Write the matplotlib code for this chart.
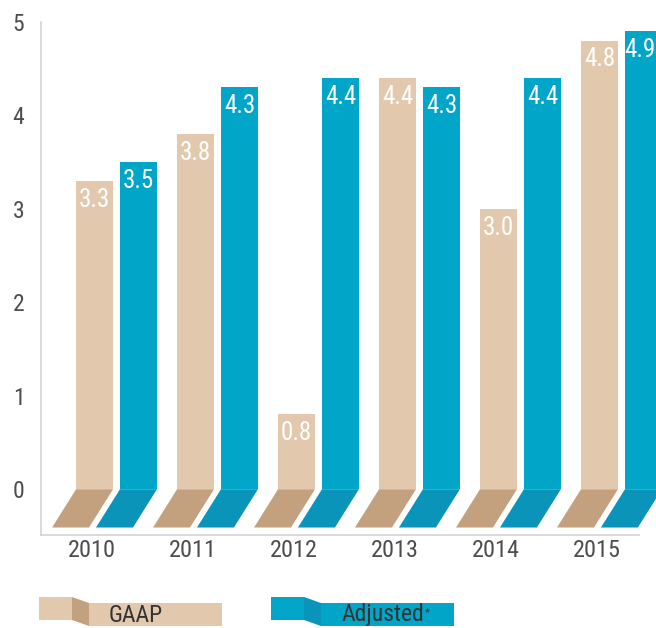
import matplotlib
matplotlib.use("Agg")
import matplotlib.pyplot as plt
import numpy as np
from matplotlib import font_manager
from matplotlib.patches import Polygon, Rectangle

years = ["2010", "2011", "2012", "2013", "2014", "2015"]
gaap = [3.3, 3.8, 0.8, 4.4, 3.0, 4.8]
adjusted = [3.5, 4.3, 4.4, 4.3, 4.4, 4.9]

# prefer a narrow face, like the condensed type of the original
names = {f.name for f in font_manager.fontManager.ttflist}
cands = ["Roboto Condensed", "Liberation Sans Narrow", "DejaVu Sans Condensed",
         "Open Sans Condensed", "Roboto", "DejaVu Sans"]
narrow = [c for c in cands if c in names]
plt.rcParams['font.family'] = narrow[:1] + ['DejaVu Sans']

GAAP_C = "#E2C9AE"
GAAP_D = "#C4A17E"
ADJ_C = "#00A5C8"
ADJ_D = "#0A94B9"
TXT = "#4D4D4D"

fig = plt.figure(figsize=(6.56, 6.28), dpi=100)
ax = fig.add_axes([41 / 656, 93 / 628, 615 / 656, 513 / 628])

x = np.arange(len(years))
w = 0.366      # bar width (group spacing = 1)
gap = 0.069
off = 0.238    # slant of the base
depth = 0.41   # how far the base goes below zero
xmax = 5.342

def draw_series(lefts, values, face, dark):
    ax.bar(lefts, values, width=w, align="edge", color=face, zorder=2)
    for l, v in zip(lefts, values):
        ax.add_patch(Polygon([(l, 0), (l + w, 0), (l + w - off, -depth), (l - off, -depth)],
                             closed=True, facecolor=dark, edgecolor="none", zorder=2))
        # keep the label inside the figure when the bar runs off the edge
        cx = min(l + w / 2, xmax - 0.16)
        ax.annotate(f"{v:.1f}", (cx, v), xytext=(0, -13.5), textcoords="offset points",
                    ha="center", va="center", color="white", fontsize=18)

draw_series(x - gap / 2 - w, gaap, GAAP_C, GAAP_D)
draw_series(x + gap / 2, adjusted, ADJ_C, ADJ_D)

ax.set_xlim(-0.748, xmax)
ax.set_ylim(-0.49, 5)
ax.set_yticks(range(6))
ax.set_xticks(x - 0.24)
ax.set_xticklabels(years)
ax.tick_params(axis="y", length=0, pad=12, labelsize=17, labelcolor=TXT)
ax.tick_params(axis="x", length=0, pad=3, labelsize=17.5, labelcolor=TXT)
for s in ["top", "right"]:
    ax.spines[s].set_visible(False)
for s in ["left", "bottom"]:
    ax.spines[s].set_color("#D3D3D3")
    ax.spines[s].set_linewidth(1.2)
ax.spines["bottom"].set_bounds(-0.748, 5.173)

# legend drawn in pixel space
lg = fig.add_axes([0, 0, 1, 1], zorder=-1)
lg.set_xlim(0, 656)
lg.set_ylim(628, 0)
lg.axis("off")

def legend_item(x0, label, face, dark):
    lg.add_patch(Rectangle((x0, 597), 33, 23, facecolor=face, edgecolor="none"))
    lg.add_patch(Polygon([(x0 + 33, 597), (x0 + 50, 603), (x0 + 50, 626), (x0 + 33, 620)],
                         closed=True, facecolor=dark, edgecolor="none"))
    lg.add_patch(Rectangle((x0 + 50, 603), 133, 23, facecolor=face, edgecolor="none"))
    return lg.text(x0 + 70, 615, label, ha="left", va="center", fontsize=17, color="#333333")

legend_item(39, "GAAP", GAAP_C, GAAP_D)
t = legend_item(271, "Adjusted", ADJ_C, ADJ_D)
lg.annotate("*", (1, 1), xycoords=t, xytext=(1, -3), textcoords="offset points",
            ha="left", va="top", fontsize=8, color="#333333")

fig.savefig("out.png", dpi=100)
